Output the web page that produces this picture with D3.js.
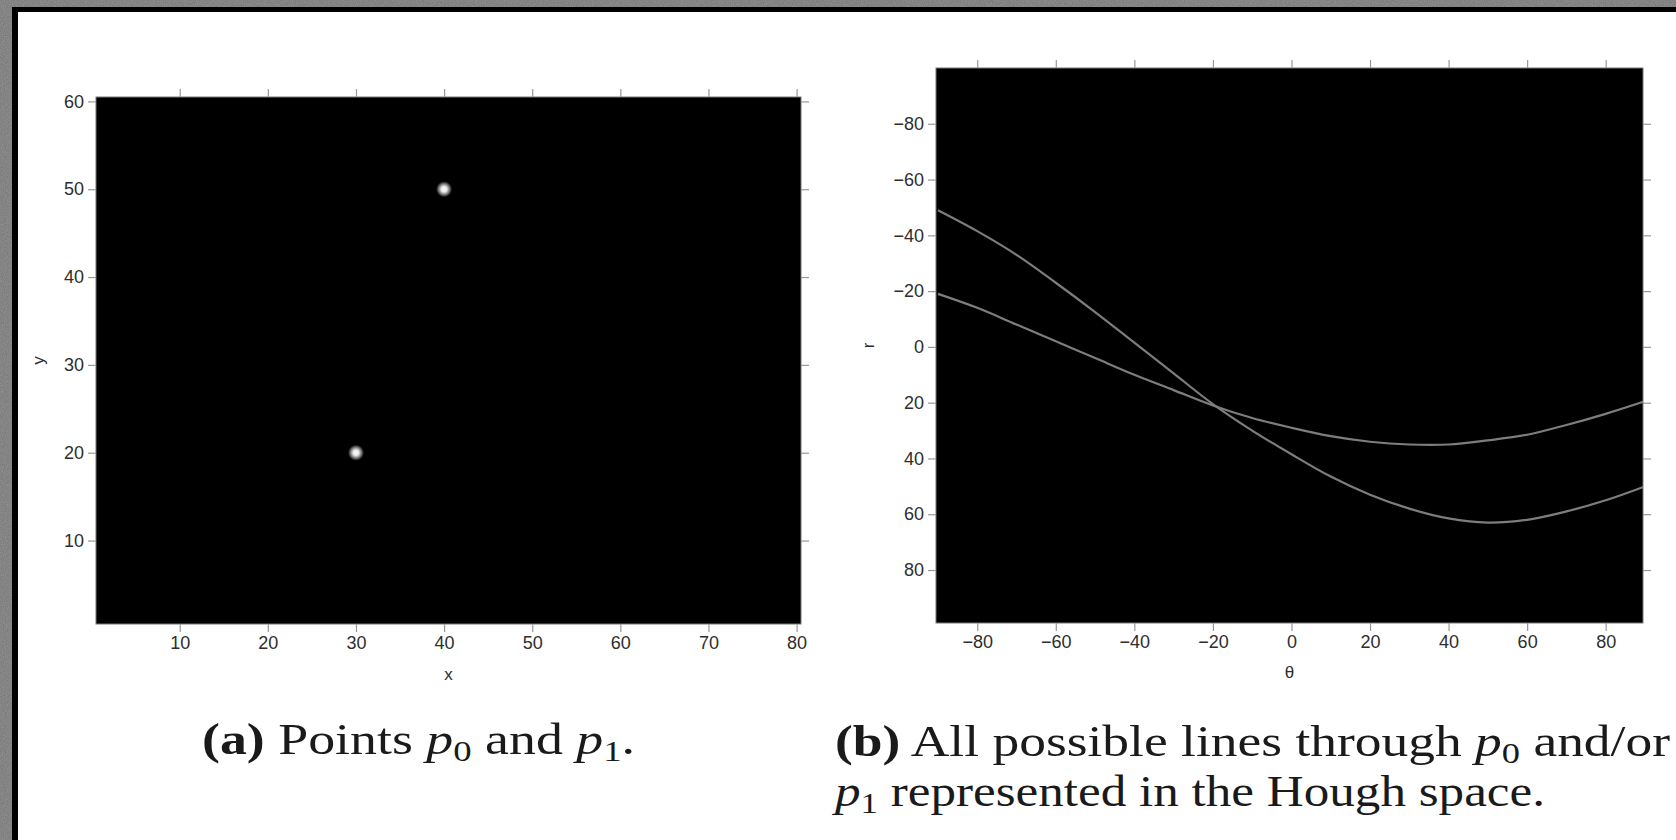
<!DOCTYPE html>
<html lang="en">
<head>
    <meta charset="UTF-8">
    <title>Hough transform of two points</title>
    <script type="text/javascript" src="https://cdn.jsdelivr.net/npm/d3@7/dist/d3.min.js"></script>
    <style>
        body { margin: 0; background: #666; }
        svg { display: block; }
    </style>
</head>
<body>
<script type="text/javascript">
    var w = 1676;
    var h = 840;

    // left panel: the two input points
    var pointX = [40, 30];
    var pointY = [50, 20];
    var xTicks = [10, 20, 30, 40, 50, 60, 70, 80];
    var yTicks = [10, 20, 30, 40, 50, 60];

    // right panel: Hough space, r every 10 degrees
    var theta = [-90, -80, -70, -60, -50, -40, -30, -20, -10, 0, 10, 20, 30, 40, 50, 60, 70, 80, 90];
    var rP1 = [-19, -14, -8, -2, 4, 10, 15.5, 21, 25.5, 29, 32, 34, 35, 35, 33.5, 31.5, 28, 24, 19.5];
    var rP0 = [-49, -41.5, -33, -23, -12.5, -1.5, 9.5, 20.5, 30, 38.5, 46.5, 53, 58, 61.5, 63, 62, 59, 55, 50];
    var thetaTicks = [-80, -60, -40, -20, 0, 20, 40, 60, 80];
    var rTicks = [-80, -60, -40, -20, 0, 20, 40, 60, 80];

    var svg = d3.select("body")
        .append("svg")
        .attr("width", w)
        .attr("height", h);

    var defs = svg.append("defs");
    var noise = defs.append("filter").attr("id", "noise")
        .attr("x", 0).attr("y", 0).attr("width", "100%").attr("height", "100%");
    noise.append("feTurbulence").attr("type", "fractalNoise")
        .attr("baseFrequency", 0.9).attr("numOctaves", 2).attr("result", "t");
    noise.append("feColorMatrix").attr("type", "matrix")
        .attr("values", "0 0 0 0 0.42  0 0 0 0 0.42  0 0 0 0 0.42  0 0 0 -0.9 1.1");

    var glow = defs.append("radialGradient").attr("id", "glow");
    glow.append("stop").attr("offset", "0%").attr("stop-color", "#fff");
    glow.append("stop").attr("offset", "35%").attr("stop-color", "#e8e8e8");
    glow.append("stop").attr("offset", "70%").attr("stop-color", "#707070");
    glow.append("stop").attr("offset", "100%").attr("stop-color", "#000");

    // frame: textured grey, black border, white page
    svg.append("rect").attr("width", w).attr("height", h).attr("fill", "#6a6a6a");
    svg.append("rect").attr("width", w).attr("height", h).attr("filter", "url(#noise)").attr("opacity", 0.6);
    svg.append("rect").attr("x", 12).attr("y", 7).attr("width", w - 12).attr("height", h - 7).attr("fill", "#000");
    svg.append("rect").attr("x", 18).attr("y", 12).attr("width", w - 18).attr("height", h - 12).attr("fill", "#fff");

    function drawAxes(g, x, y, xt, yt, xlab, ylab, xlabY, ylabX) {
        var r = x.range();
        var top = d3.min(y.range()), bottom = d3.max(y.range());
        g.append("rect")
            .attr("x", r[0]).attr("y", top)
            .attr("width", r[1] - r[0]).attr("height", bottom - top)
            .attr("fill", "#000").attr("stroke", "#777").attr("stroke-width", 1);

        var fmt = function (d) { return d < 0 ? "\u2212" + Math.abs(d) : d; };
        var sides = [
            [d3.axisBottom(x).tickValues(xt).tickFormat(fmt), "translate(0," + bottom + ")"],
            [d3.axisTop(x).tickValues(xt).tickFormat(""), "translate(0," + top + ")"],
            [d3.axisLeft(y).tickValues(yt).tickFormat(fmt), "translate(" + r[0] + ",0)"],
            [d3.axisRight(y).tickValues(yt).tickFormat(""), "translate(" + r[1] + ",0)"]
        ];
        sides.forEach(function (s) {
            var a = g.append("g").attr("transform", s[1])
                .call(s[0].tickSize(8).tickPadding(4));
            a.select(".domain").remove();
            a.selectAll("line").attr("stroke", "#999").attr("stroke-width", 1.2);
            a.selectAll("text")
                .attr("font-family", "Liberation Sans, Arial, sans-serif")
                .attr("font-size", 18)
                .attr("fill", "#2e2e2e");
        });

        g.append("text").text(xlab)
            .attr("x", (r[0] + r[1]) / 2).attr("y", xlabY)
            .attr("text-anchor", "middle")
            .attr("font-family", "Liberation Sans, Arial, sans-serif")
            .attr("font-size", 17).attr("fill", "#2e2e2e");
        g.append("text").text(ylab)
            .attr("transform", "translate(" + ylabX + "," + (top + bottom) / 2 + ") rotate(-90)")
            .attr("text-anchor", "middle")
            .attr("font-family", "Liberation Sans, Arial, sans-serif")
            .attr("font-size", 17).attr("fill", "#2e2e2e");
    }

    // ---- (a) image space ----
    var xA = d3.scaleLinear().domain([0.5, 80.5]).range([96, 801]);
    var yA = d3.scaleLinear().domain([0.5, 60.5]).range([624, 97]);
    var gA = svg.append("g");
    drawAxes(gA, xA, yA, xTicks, yTicks, "x", "y", 680, 44);

    gA.selectAll("circle.pt")
        .data(pointX)
        .enter()
        .append("circle")
        .attr("class", "pt")
        .attr("cx", function (d) { return xA(d); })
        .attr("cy", function (d, i) { return yA(pointY[i]); })
        .attr("r", 8)
        .attr("fill", "url(#glow)");

    // ---- (b) Hough space ----
    var xB = d3.scaleLinear().domain([-90.5, 89.5]).range([936, 1643]);
    var yB = d3.scaleLinear().domain([-100, 99]).range([68, 623]);
    var gB = svg.append("g");
    drawAxes(gB, xB, yB, thetaTicks, rTicks, "\u03b8", "r", 678, 874);

    var line = d3.line()
        .x(function (d) { return xB(d[0]); })
        .y(function (d) { return yB(d[1]); })
        .curve(d3.curveCatmullRom);

    var clip = defs.append("clipPath").attr("id", "clipB");
    clip.append("rect").attr("x", 936).attr("y", 68).attr("width", 707).attr("height", 555);

    gB.append("g").attr("clip-path", "url(#clipB)")
        .selectAll("path.curve")
        .data([rP1, rP0])
        .enter()
        .append("path")
        .attr("class", "curve")
        .attr("d", function (d) {
            return line(theta.map(function (t, i) { return [t, d[i]]; }));
        })
        .attr("fill", "none")
        .attr("stroke", "#7d7d7d")
        .attr("stroke-width", 2.2);

    // ---- captions ----
    function caption(x, y, len, parts) {
        var t = svg.append("text")
            .attr("x", x).attr("y", y)
            .attr("font-family", "Liberation Serif, Times New Roman, serif")
            .attr("font-size", 44)
            .attr("fill", "#1a1a1a")
            .attr("textLength", len)
            .attr("lengthAdjust", "spacingAndGlyphs");
        parts.forEach(function (p) {
            var s = t.append("tspan").text(p.t);
            if (p.b) s.attr("font-weight", "bold");
            if (p.i) s.attr("font-style", "italic");
            if (p.sub) s.attr("font-size", 30).attr("dy", 7);
            if (p.up) s.attr("dy", -7);
        });
    }
    caption(202, 754, 433, [
        {t: "(a)", b: true}, {t: " Points "}, {t: "p", i: true}, {t: "0", sub: true},
        {t: " and ", up: true}, {t: "p", i: true}, {t: "1", sub: true}, {t: ".", up: true}
    ]);
    caption(835, 756, 835, [
        {t: "(b)", b: true}, {t: " All possible lines through "}, {t: "p", i: true},
        {t: "0", sub: true}, {t: " and/or", up: true}
    ]);
    caption(835, 806, 710, [
        {t: "p", i: true}, {t: "1", sub: true}, {t: " represented in the Hough space.", up: true}
    ]);
</script>
</body>
</html>
